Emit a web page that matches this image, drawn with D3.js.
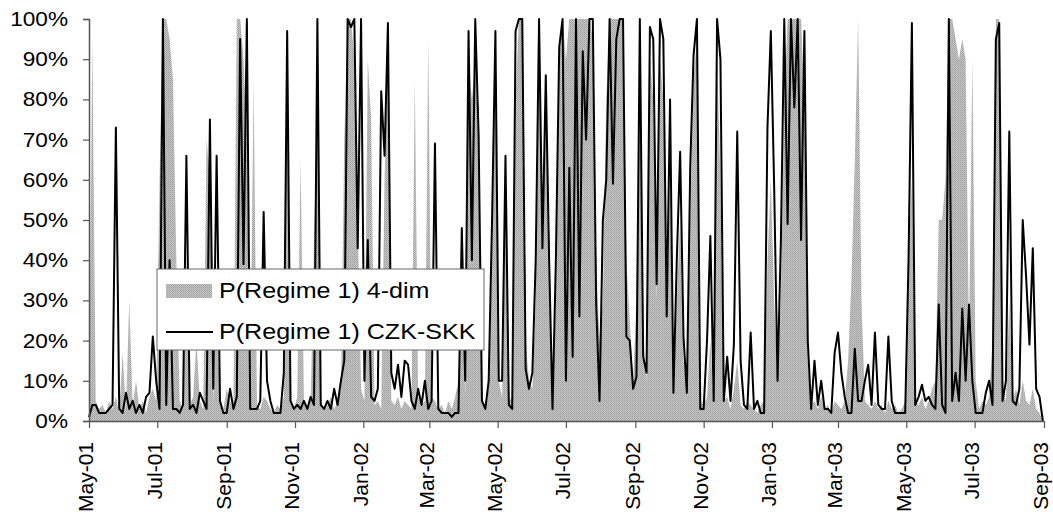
<!DOCTYPE html>
<html>
<head>
<meta charset="utf-8">
<script src="https://cdn.jsdelivr.net/npm/d3@7"></script>
<style>
	body{margin:0;background:#fff;}
	svg{display:block;font-family:"Liberation Sans",Arial,sans-serif;}
</style>
</head>
<body>
<div class="viz"></div>
<script>
// x axis months (every second month) and their labels
const tickMonths=['2001-05-01','2001-07-01','2001-09-01','2001-11-01','2002-01-01','2002-03-01','2002-05-01',
	'2002-07-01','2002-09-01','2002-11-01','2003-01-01','2003-03-01','2003-05-01','2003-07-01','2003-09-01'];
const tickLabels=['May-01','Jul-01','Sep-01','Nov-01','Jan-02','Mar-02','May-02','Jul-02',
	'Sep-02','Nov-02','Jan-03','Mar-03','May-03','Jul-03','Sep-03'];
const yTicks=[0,10,20,30,40,50,60,70,80,90,100];
const legendLabels=['P(Regime 1) 4-dim','P(Regime 1) CZK-SKK'];

// one observation every 3 days, starting 1 May 2001 (values in %)
const startDay='2001-05-01';
const stepDays=3;

// P(Regime 1) 4-dim  (grey area)
const regime4dim=[
	5,95,5,3,4,2,5,3,6,2, 17,3,30,4,10,3,5,2,6,8, 5,60,100,100,95,85,40,5,3,40,
	4,6,20,5,3,70,60,5,30,4, 3,8,5,3,100,100,90,70,5,85, 4,3,6,5,3,2,4,3,6,90,
	5,3,6,65,5,3,5,45,80,5, 3,4,6,3,5,8,70,100,100,90, 50,8,5,90,75,4,5,3,60,95,
	5,4,6,3,5,4,3,85,6,4, 5,95,6,5,3,4,2,5,3,6, 10,40,6,90,80,90,70,5,4,8,
	40,90,10,6,50,5,6,80,100,100, 20,10,8,30,95,50,80,40,6,30, 90,100,90,100,100,100,100,100,100,100,
	95,40,20,30,80,100,100,100,100,100, 40,25,10,30,100,20,10,90,80,30, 90,80,25,60,8,30,50,15,8,50,
	85,95,5,4,6,20,4,90,60,5, 6,3,8,15,4,3,5,4,3,2, 4,5,40,60,30,10,30,80,100,100,
	100,100,100,80,15,4,5,3,6,3, 4,2,5,4,3,5,15,35,65,100, 30,5,4,3,5,3,4,2,5,3,
	4,2,3,5,40,60,5,4,6,3, 5,8,10,50,50,60,100,100,95,90, 95,90,20,90,10,3,5,4,6,20,
	100,100,10,5,30,5,8,4,10,5, 4,8,3,2,0
];

// P(Regime 1) CZK-SKK  (black line)
const regimeCzkSkk=[
	1,4,4,2,2,2,3,4,73,3, 2,7,3,5,2,4,2,6,7,21, 10,3,100,4,40,3,3,2,4,66,
	3,4,2,7,5,3,75,8,66,5, 2,2,8,3,6,95,39,100,3,3, 3,5,52,10,5,2,2,2,12,97,
	5,3,4,3,5,3,6,4,100,4, 3,5,3,8,4,10,15,100,98,100, 43,100,10,45,6,5,8,82,66,99,
	12,8,14,6,15,14,5,3,8,4, 10,3,5,69,3,2,2,2,1,2, 2,48,10,97,40,100,71,5,3,10,
	50,97,10,10,66,4,3,97,100,100, 13,8,12,40,100,43,86,40,3,40, 93,100,10,63,16,100,26,92,70,100,
	100,29,5,50,60,100,59,95,100,100, 21,20,8,11,100,16,12,98,95,34, 100,95,26,80,7,40,67,21,7,63,
	91,100,3,3,20,46,5,100,90,5, 16,5,19,72,15,4,3,22,3,5, 2,2,73,97,58,10,45,100,49,100,
	78,100,45,97,20,3,15,4,10,3, 3,2,17,22,12,6,2,2,18,5, 5,10,14,4,22,4,3,3,21,5,
	2,2,2,2,40,99,4,6,9,5, 6,4,3,29,4,2,100,5,12,5, 28,10,29,10,2,2,2,7,10,4,
	95,99,5,10,72,5,4,8,50,36, 19,43,8,6,0
];

const width=1053;
const height=523;
const margin={left:89,right:9,top:19,bottom:102};

const svg=d3.select('.viz').append('svg')
	.attr('width',width)
	.attr('height',height);

// the original text is a little wider than the font, so stretch it
function stretch(sel,k){
	sel.each(function(){
		const w=this.getComputedTextLength();
		d3.select(this)
			.attr('textLength',w*k)
			.attr('lengthAdjust','spacingAndGlyphs');
	});
}

const parseDay=d3.timeParse('%Y-%m-%d');
const day0=parseDay(startDay);
const dates=regime4dim.map((d,i)=>d3.timeDay.offset(day0,i*stepDays));
const tickDates=tickMonths.map(parseDay);

const x=d3.scaleTime()
	.domain([tickDates[0],tickDates[tickDates.length-1]])
	.range([margin.left,width-margin.right]);

const y=d3.scaleLinear()
	.domain([0,100])
	.range([height-margin.bottom,margin.top]);

// dotted grey fill like the spreadsheet pattern
const defs=svg.append('defs');
const pat=defs.append('pattern')
	.attr('id','dots')
	.attr('width',2)
	.attr('height',2)
	.attr('patternUnits','userSpaceOnUse');
pat.append('rect').attr('width',2).attr('height',2).attr('fill','#c8c8c8');
pat.append('rect').attr('width',1).attr('height',1).attr('fill','#9c9c9c');
pat.append('rect').attr('x',1).attr('y',1).attr('width',1).attr('height',1).attr('fill','#aaaaaa');

const area=d3.area()
	.x((d,i)=>x(dates[i]))
	.y0(y(0))
	.y1(d=>y(d));

svg.append('path')
	.datum(regime4dim)
	.attr('d',area)
	.attr('fill','url(#dots)');

const line=d3.line()
	.x((d,i)=>x(dates[i]))
	.y(d=>y(d));

svg.append('path')
	.datum(regimeCzkSkk)
	.attr('d',line)
	.attr('fill','none')
	.attr('stroke','#000')
	.attr('stroke-width',2)
	.attr('stroke-linejoin','round');

// y axis
const yAxis=svg.append('g')
	.attr('transform',`translate(${margin.left},0)`)
	.call(d3.axisLeft(y).tickValues(yTicks).tickFormat(d=>d+'%').tickSize(6).tickPadding(15));
yAxis.select('.domain').attr('stroke','#555').attr('stroke-width',1.5);
yAxis.selectAll('.tick line').attr('stroke','#555').attr('stroke-width',1.2);
yAxis.selectAll('text')
	.attr('font-size',20)
	.attr('fill','#000')
	.attr('font-family','"Liberation Sans",Arial,sans-serif')
	.call(stretch,1.13);

// x axis
const xAxis=svg.append('g')
	.attr('transform',`translate(0,${y(0)})`)
	.call(d3.axisBottom(x).tickValues(tickDates).tickFormat((d,i)=>tickLabels[i]).tickSize(7).tickSizeOuter(0));
xAxis.select('.domain').attr('stroke','#555').attr('stroke-width',1.5);
xAxis.selectAll('.tick line').attr('stroke','#555').attr('stroke-width',1.2);
xAxis.selectAll('text')
	.attr('font-size',21)
	.attr('fill','#000')
	.attr('font-family','"Liberation Sans",Arial,sans-serif')
	.attr('text-anchor','end')
	.attr('transform','rotate(-90)')
	.attr('x',-21)
	.attr('y',0)
	.attr('dy','0.18em');

// legend
const legend=svg.append('g').attr('transform','translate(157,269)');
legend.append('rect')
	.attr('width',327)
	.attr('height',81)
	.attr('fill','#fff')
	.attr('stroke','#666')
	.attr('stroke-width',1);
legend.append('rect')
	.attr('x',9).attr('y',15)
	.attr('width',46).attr('height',14)
	.attr('fill','url(#dots)');
legend.append('line')
	.attr('x1',9).attr('x2',56)
	.attr('y1',63).attr('y2',63)
	.attr('stroke','#000')
	.attr('stroke-width',2);
legend.selectAll('text.lab')
	.data(legendLabels)
	.join('text')
	.attr('class','lab')
	.attr('x',62)
	.attr('y',(d,i)=>29+i*41)
	.attr('font-size',22)
	.attr('fill','#000')
	.text(d=>d)
	.call(stretch,1.14);
</script>
</body>
</html>
